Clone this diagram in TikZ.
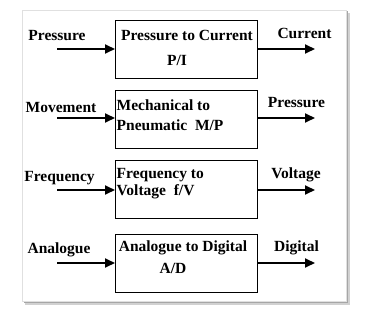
\documentclass[tikz,border=0pt]{standalone}
\usepackage{fontspec}
\setmainfont{Liberation Serif}
\usetikzlibrary{arrows.meta}
\begin{document}
\begin{tikzpicture}[x=1pt,y=1pt,
  conv/.style={draw=black,line width=0.9pt,minimum width=142pt,minimum height=58pt,anchor=north west,inner sep=0pt},
  lbl/.style={font=\fontsize{15.5}{16}\selectfont\bfseries,inner sep=0pt},
  sig/.style={line width=1.8pt,-{Triangle[length=10pt,width=9pt]}}]
\useasboundingbox (0,0) rectangle (369,311);
\fill[white] (0,0) rectangle (369,311);
% frame with shadow
\fill[black!18] (25,6) rectangle (350,298);
\fill[black!35] (24,8) rectangle (348,300);
\fill[white,draw=black!12] (22,10) rectangle (346,301);
% boxes
\node[conv] (b1) at (115,291) {};
\node[conv] (b2) at (115,221) {};
\node[conv] (b3) at (115,151) {};
\node[conv] (b4) at (115,77) {};
% box texts
\node[lbl] (t1) at (187,276) {Pressure to Current};
\node[lbl] (t1b) at (177,251) {P/I};
\node[lbl,anchor=west] (t2) at (116.5,206) {Mechanical to};
\node[lbl,anchor=west] (t2b) at (116.5,186) {Pneumatic\ \ M/P};
\node[lbl,anchor=west] (t3) at (116.5,136) {Frequency to};
\node[lbl,anchor=west] (t3b) at (116.5,119) {Voltage\ \ f/V};
\node[lbl] (t4) at (183,63) {Analogue to Digital};
\node[lbl] (t4b) at (173,43) {A/D};
% input labels
\node[lbl] (i1) at (57,275) {Pressure};
\node[lbl] (i2) at (61,203) {Movement};
\node[lbl] (i3) at (59.5,133) {Frequency};
\node[lbl] (i4) at (59,61) {Analogue};
% output labels
\node[lbl] (o1) at (304.5,278) {Current};
\node[lbl] (o2) at (296.5,208) {Pressure};
\node[lbl] (o3) at (296,136) {Voltage};
\node[lbl] (o4) at (296.5,63) {Digital};
% arrow end coordinates
\coordinate (a1) at (57,262);
\coordinate (a2) at (57,193);
\coordinate (a3) at (57,121);
\coordinate (a4) at (57,48);
\coordinate (c1) at (315,262);
\coordinate (c2) at (315,193);
\coordinate (c3) at (315,121);
\coordinate (c4) at (315,48);
\draw[sig] (a1) -- (a1 -| b1.west);
\draw[sig] (a2) -- (a2 -| b2.west);
\draw[sig] (a3) -- (a3 -| b3.west);
\draw[sig] (a4) -- (a4 -| b4.west);
\draw[sig] (c1 -| b1.east) -- (c1);
\draw[sig] (c2 -| b2.east) -- (c2);
\draw[sig] (c3 -| b3.east) -- (c3);
\draw[sig] (c4 -| b4.east) -- (c4);
\end{tikzpicture}
\end{document}
